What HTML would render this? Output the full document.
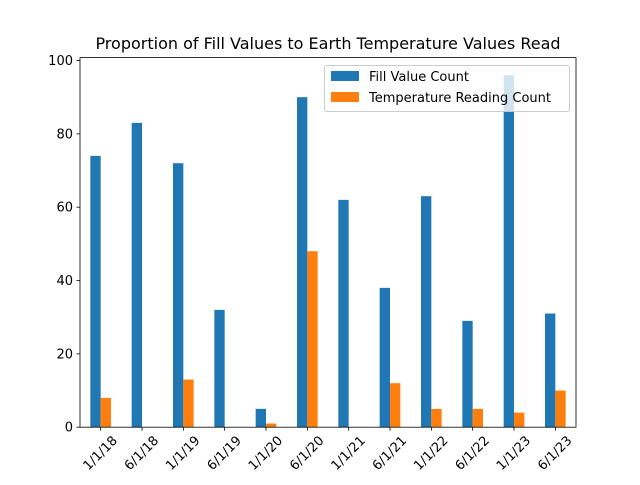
<!DOCTYPE html>
<html><head><meta charset="utf-8"><style>
body{margin:0;background:#fff;}
svg text{font-family:"DejaVu Sans","Liberation Sans",sans-serif;fill:#000;}
</style></head><body>
<svg id="chart" width="640" height="480">
<rect width="640" height="480" fill="#fff"/>
<text x="328" y="49" font-size="16" text-anchor="middle">Proportion of Fill Values to Earth Temperature Values Read</text>
<g id="bars"></g>
<g id="axes"></g>
<g>
<rect x="324.5" y="65.5" width="245" height="46" fill="#fff" fill-opacity="0.8" stroke="#ccc" rx="2"/>
<rect x="331" y="71" width="28" height="10" fill="#1f77b4"/>
<text x="369" y="81" font-size="13">Fill Value Count</text>
<rect x="331" y="92" width="28" height="10" fill="#ff7f0e"/>
<text x="369" y="102" font-size="13">Temperature Reading Count</text>
</g>
</svg>
<script>
const categories=["1/1/18","6/1/18","1/1/19","6/1/19","1/1/20","6/1/20","1/1/21","6/1/21","1/1/22","6/1/22","1/1/23","6/1/23"];
const fillValues=[74,83,72,32,5,90,62,38,63,29,96,31];
const tempValues=[8,0,13,0,1,48,0,12,5,5,4,10];
const yTicks=[0,20,40,60,80,100];
const L=80,R=576,T=57.6,B=427.2;
const ymax=Math.max(...fillValues,...tempValues)*1.05;
const n=categories.length;
const xs=i=>L+(i+0.5)*(R-L)/n;
const ys=v=>B-v/ymax*(B-T);
const bw=(R-L)/n*0.25;
const ns="http://www.w3.org/2000/svg";
const bars=document.getElementById('bars'),axes=document.getElementById('axes');
function mk(tag,attrs,parent){const e=document.createElementNS(ns,tag);for(const k in attrs)e.setAttribute(k,attrs[k]);parent.appendChild(e);return e;}
categories.forEach((c,i)=>{
 let r=mk('rect',{x:xs(i)-bw,y:ys(fillValues[i]),width:bw,height:B-ys(fillValues[i]),fill:'#1f77b4'},bars);
 
 
 let r2=mk('rect',{x:xs(i),y:ys(tempValues[i]),width:bw,height:B-ys(tempValues[i]),fill:'#ff7f0e'},bars);
 
 
 mk('line',{x1:xs(i),x2:xs(i),y1:B,y2:B+3.5,stroke:'#000','stroke-width':0.8},axes);
 let t=mk('text',{x:0,y:0,'font-size':13,'text-anchor':'middle','dominant-baseline':'central'},axes);
 t.textContent=c;
 
 
 const w=t.getComputedTextLength();
 const hb=(w+13)*0.7071;
 t.setAttribute('transform',`translate(${xs(i)},${B+7+hb/2}) rotate(-45)`);
});
yTicks.forEach(v=>{
 mk('line',{x1:L-3.5,x2:L,y1:ys(v),y2:ys(v),stroke:'#000','stroke-width':0.8},axes);
 let t=mk('text',{x:L-7,y:ys(v)+4.5,'font-size':13,'text-anchor':'end'},axes);
 t.textContent=v;
 
 
});
let fr=mk('rect',{x:L,y:T,width:R-L,height:B-T,fill:'none',stroke:'#000','stroke-width':0.8},axes);


</script>
</body></html>
